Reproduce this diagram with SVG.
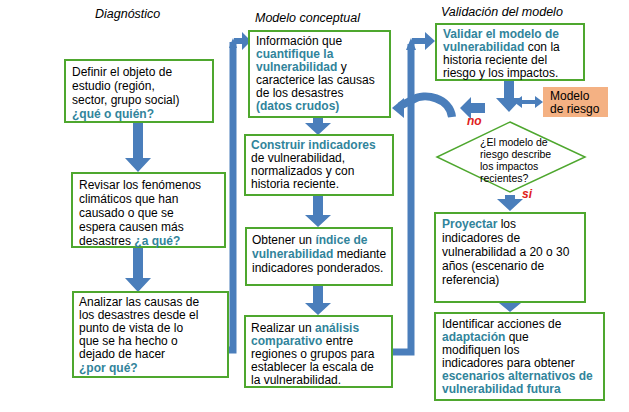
<svg xmlns="http://www.w3.org/2000/svg" width="629" height="412" viewBox="0 0 629 412">
<style>
text{font-family:"Liberation Sans",Arial,sans-serif;font-size:12px;fill:#000}
.t{font-style:italic;font-size:12.5px}
.b{fill:#31849B;font-weight:bold}
.r{fill:#E02020;font-weight:bold;font-style:italic}
.s{font-size:10.5px}
.box{fill:#fff;stroke:#4EA72E;stroke-width:2}
.ln{fill:none;stroke:#4A7EBB;stroke-width:7}
.ar{fill:#4A7EBB}
</style>
<rect width="629" height="412" fill="#fff"/>
<text class="t" x="95" y="18">Diagnóstico</text>
<text class="t" x="255" y="22">Modelo conceptual</text>
<text class="t" x="441" y="16">Validación del modelo</text>
<g id="connectors">
<path class="ar" d="M133,122h10v36h8l-13,14l-13,-14h8z"/>
<path class="ar" d="M133,247h10v31h8l-13,14l-13,-14h8z"/>
<path class="ln" d="M228,350H233V42"/>
<path class="ar" d="M229,48l4,-10l4,10z"/>
<path class="ar" d="M234,38h8v-6l9,9l-9,9v-6h-8z"/>
<path class="ar" d="M313,117h10v6h8l-13,12l-13,-12h8z"/>
<path class="ar" d="M313,195h10v20h8l-13,12l-13,-12h8z"/>
<path class="ar" d="M313,285h10v18h8l-13,12l-13,-12h8z"/>
<path class="ln" d="M392,352H411V44"/>
<path class="ar" d="M406,50l5,-12l5,12z"/>
<path class="ar" d="M412,38h13v-6l10,9l-10,9v-6h-13z"/>
<path class="ar" d="M504,80h10v18h8l-13,14l-13,-14h8z"/>
<path class="ar" d="M514,102l8,-6v4h13v-4l8,6l-8,6v-4h-13v4z"/>
<path class="ar" d="M485,103v10h-14v6l-11,-11l11,-11v6z"/>
<path d="M452,117C450,98 425,92 412,100L400,106" fill="none" stroke="#4A7EBB" stroke-width="8"/>
<path class="ar" d="M404,98v20l-12,-10z"/>
<path class="ar" d="M505,195h10v4h8l-13,12l-13,-12h8z"/>
<path class="ar" d="M505,302h10v1h6l-11,9l-11,-9h6z"/>
</g>
<g id="n1"><rect class="box" x="65" y="60" width="148" height="62"/>
<text x="72" y="76">Definir el objeto de</text><text x="72" y="90">estudio (región,</text><text x="72" y="104">sector, grupo social)</text><text x="72" y="118" class="b">¿qué o quién?</text></g>
<g id="n2"><rect class="box" x="72" y="173" width="153" height="74"/>
<text x="79" y="189">Revisar los fenómenos</text><text x="79" y="203">climáticos que han</text><text x="79" y="217">causado o que se</text><text x="79" y="231">espera causen más</text><text x="79" y="245">desastres <tspan class="b">¿a qué?</tspan></text></g>
<g id="n3"><rect class="box" x="73" y="292" width="155" height="85"/>
<text x="79" y="306">Analizar las causas de</text><text x="79" y="319">los desastres desde el</text><text x="79" y="332">punto de vista de lo</text><text x="79" y="345">que se ha hecho o</text><text x="79" y="358">dejado de hacer</text><text x="79" y="372" class="b">¿por qué?</text></g>
<g id="m1"><rect class="box" x="249" y="31" width="141" height="86"/>
<text x="256" y="45">Información que</text><text x="256" y="58" class="b">cuantifique la</text><text x="256" y="71"><tspan class="b">vulnerabilidad</tspan> y</text><text x="256" y="84">caracterice las causas</text><text x="256" y="97">de los desastres</text><text x="256" y="110" class="b">(datos crudos)</text></g>
<g id="m2"><rect class="box" x="245" y="135" width="148" height="60"/>
<text x="251" y="149" class="b">Construir indicadores</text><text x="251" y="162">de vulnerabilidad,</text><text x="251" y="175">normalizados y con</text><text x="251" y="188">historia reciente.</text></g>
<g id="m3"><rect class="box" x="246" y="228" width="146" height="57"/>
<text x="252" y="244">Obtener un <tspan class="b">índice de</tspan></text><text x="252" y="258"><tspan class="b">vulnerabilidad</tspan> mediante</text><text x="252" y="272">indicadores ponderados.</text></g>
<g id="m4"><rect class="box" x="245" y="316" width="147" height="71"/>
<text x="251" y="332">Realizar un <tspan class="b">análisis</tspan></text><text x="251" y="345" class="b">comparativo <tspan style="fill:#000;font-weight:normal">entre</tspan></text><text x="251" y="358">regiones o grupos para</text><text x="251" y="371">establecer la escala de</text><text x="251" y="384">la vulnerabilidad.</text></g>
<g id="v1"><rect class="box" x="436" y="24" width="148" height="56"/>
<text x="443" y="38" class="b">Validar el modelo de</text><text x="443" y="51"><tspan class="b">vulnerabilidad</tspan> con la</text><text x="443" y="64">historia reciente del</text><text x="443" y="77">riesgo y los impactos.</text></g>
<g id="mr"><rect x="543" y="87" width="65" height="30" fill="#F4B183"/>
<text x="550" y="100">Modelo</text><text x="550" y="113">de riesgo</text></g>
<text class="r" x="467" y="125">no</text>
<g id="d"><path d="M510,122L585,157L510,192L437,157z" fill="#fff" stroke="#4EA72E" stroke-width="1.5"/>
<text class="s" x="480" y="146">¿El modelo de</text><text class="s" x="480" y="158">riesgo describe</text><text class="s" x="480" y="170">los impactos</text><text class="s" x="480" y="182">recientes?</text></g>
<text class="r" x="522" y="198">si</text>
<g id="v2"><rect class="box" x="435" y="213" width="150" height="89"/>
<text x="442" y="228" class="b">Proyectar <tspan style="fill:#000;font-weight:normal">los</tspan></text><text x="442" y="242">indicadores de</text><text x="442" y="256">vulnerabilidad a 20 o 30</text><text x="442" y="270">años (escenario de</text><text x="442" y="284">referencia)</text></g>
<g id="v3"><rect class="box" x="435" y="313" width="169" height="87"/>
<text x="442" y="328">Identificar acciones de</text><text x="442" y="341"><tspan class="b">adaptación</tspan> que</text><text x="442" y="354">modifiquen los</text><text x="442" y="367">indicadores para obtener</text><text x="442" y="380" class="b">escenarios alternativos de</text><text x="442" y="393" class="b">vulnerabilidad futura</text></g>
</svg>
